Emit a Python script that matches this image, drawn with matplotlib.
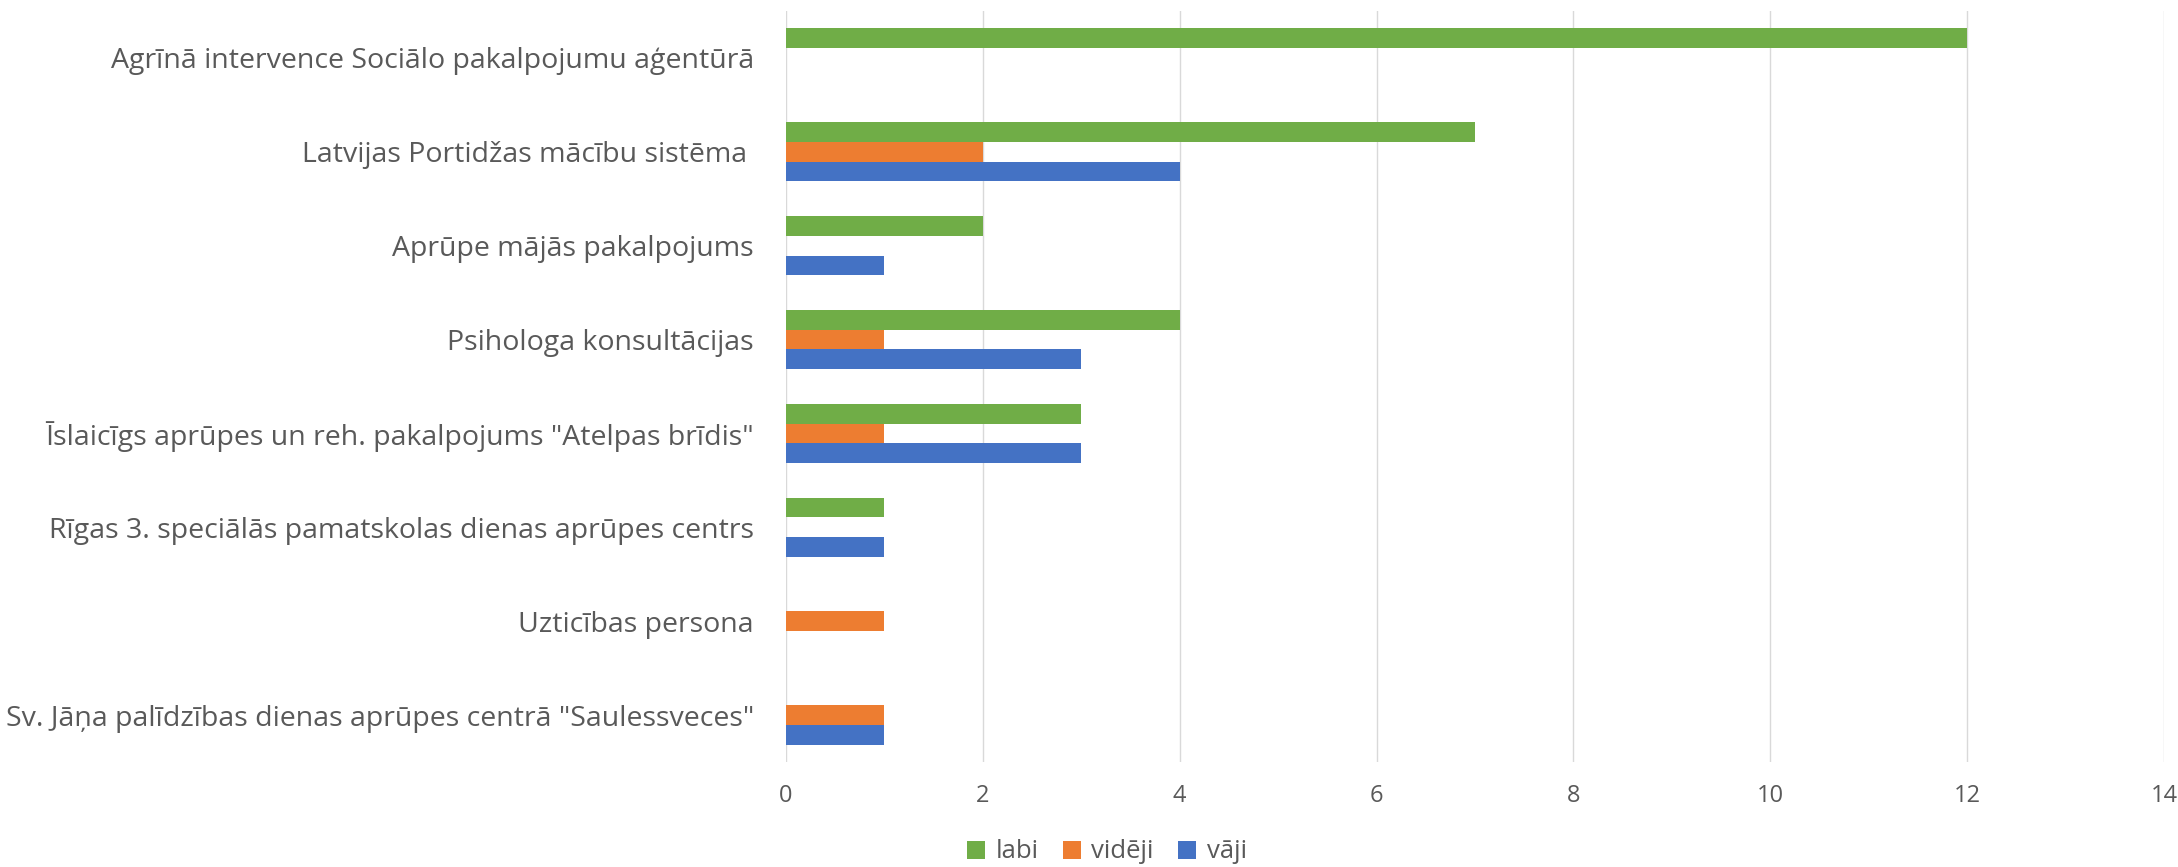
import numpy as np
import matplotlib
matplotlib.use("Agg")
import matplotlib.pyplot as plt

plt.rcParams['font.family'] = ['Open Sans', 'DejaVu Sans']

# Data (top to bottom)
categories = [
    'Agrīnā intervence Sociālo pakalpojumu aģentūrā',
    'Latvijas Portidžas mācību sistēma ',
    'Aprūpe mājās pakalpojums',
    'Psihologa konsultācijas',
    'Īslaicīgs aprūpes un reh. pakalpojums "Atelpas brīdis"',
    'Rīgas 3. speciālās pamatskolas dienas aprūpes centrs',
    'Uzticības persona',
    'Sv. Jāņa palīdzības dienas aprūpes centrā "Saulessveces"',
]
labi = [12, 7, 2, 4, 3, 1, 0, 0]
videji = [0, 2, 0, 1, 1, 0, 1, 1]
vaji = [0, 4, 1, 3, 3, 1, 0, 1]
series_names = ['labi', 'vidēji', 'vāji']
colors = ['#70AD47', '#ED7D31', '#4472C4']
x_ticks = [0, 2, 4, 6, 8, 10, 12, 14]

text_color = '#595959'
grid_color = '#D9D9D9'

W, H = 2178, 867
fig = plt.figure(figsize=(W / 100, H / 100), dpi=100)
ax = fig.add_axes([786 / W, 1 - 762 / H, (2164 - 786) / W, (762 - 11) / H])

y = np.arange(len(categories))
h = 0.21
for offset, vals, name, col in zip([-h, 0, h], [labi, videji, vaji], series_names, colors):
    ax.barh(y + offset, vals, height=h, color=col, label=name, linewidth=0)

ax.set_ylim(len(categories) - 0.5, -0.5)
ax.set_xlim(0, 14)
ax.set_xticks(x_ticks)
ax.set_xticklabels([str(t) for t in x_ticks])
ax.set_yticks(y)
ax.set_yticklabels(categories)

ax.set_axisbelow(True)
ax.grid(axis='x', color=grid_color, linewidth=1.0)
ax.grid(axis='y', visible=False)
for s in ax.spines.values():
    s.set_visible(False)

ax.tick_params(axis='x', length=0, pad=16, labelsize=17, labelcolor=text_color)
ax.tick_params(axis='y', length=0, pad=23, labelsize=20.5, labelcolor=text_color)

leg = fig.legend(loc='center', bbox_to_anchor=(1107 / W, 1 - 852 / H), ncol=3,
                 frameon=False, fontsize=18.5, handlelength=0.7, handleheight=0.7,
                 handletextpad=0.4, columnspacing=0.95)
for t in leg.get_texts():
    t.set_color(text_color)

fig.savefig('out.png', dpi=100)
